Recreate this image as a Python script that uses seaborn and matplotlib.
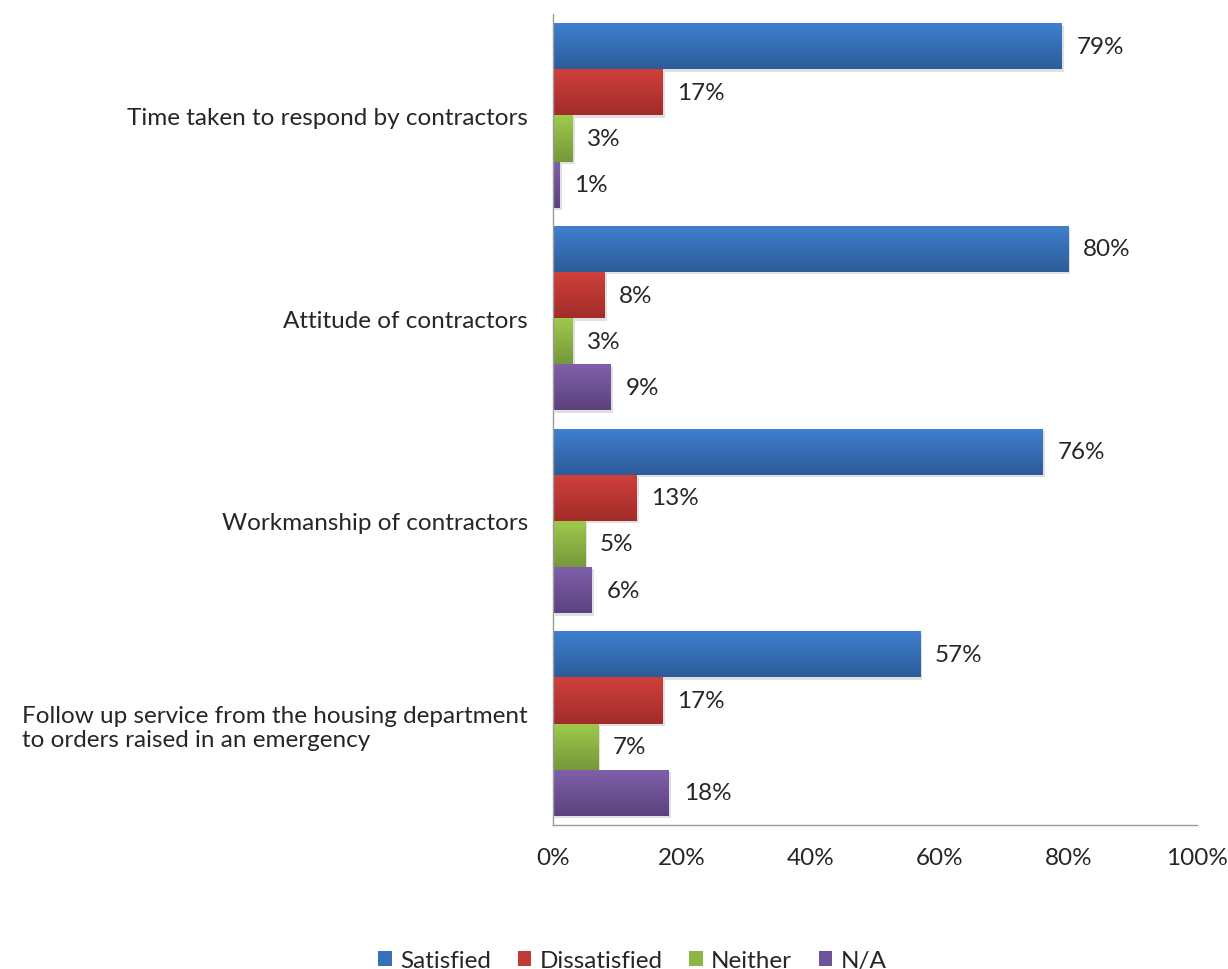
import numpy as np
import pandas as pd
import matplotlib
matplotlib.use("Agg")
import matplotlib.pyplot as plt
from matplotlib.colors import LinearSegmentedColormap
from matplotlib.patches import Rectangle
import seaborn as sns

categories = [
    "Time taken to respond by contractors",
    "Attitude of contractors",
    "Workmanship of contractors",
    "Follow up service from the housing department\nto orders raised in an emergency",
]
series = ["Satisfied", "Dissatisfied", "Neither", "N/A"]
satisfied = [79, 80, 76, 57]
dissatisfied = [17, 8, 13, 17]
neither = [3, 3, 5, 7]
not_applicable = [1, 9, 6, 18]
x_ticks = [0, 20, 40, 60, 80, 100]
x_tick_labels = ["0%", "20%", "40%", "60%", "80%", "100%"]

# colour pairs: (lighter top, darker bottom) for a soft vertical gradient
top_colors = ["#3f80cf", "#d0403c", "#9fca4c", "#8060ab"]
bottom_colors = ["#2d5c99", "#a12c29", "#76983a", "#5b427d"]
mid_colors = ["#376fb8", "#c03a37", "#8cb543", "#6e529a"]

FS = 17.5

values = [satisfied, dissatisfied, neither, not_applicable]
rows = []
for s, vals in zip(series, values):
    for c, v in zip(categories, vals):
        rows.append({"category": c, "series": s, "value": v})
df = pd.DataFrame(rows)

sns.set_theme(style="white")
plt.rcParams["font.family"] = ["Lato", "DejaVu Sans"]

fig = plt.figure(figsize=(12.28, 9.70), dpi=100)
ax = fig.add_axes([0.4503, 0.1485, 0.5245, 0.836])

sns.barplot(
    data=df, y="category", x="value", hue="series",
    order=categories, hue_order=series,
    palette=mid_colors, orient="h", width=0.91,
    ax=ax, legend=False, saturation=1,
)

ax.set_xlim(0, 100)

# gradient fill + drop shadow for every bar
for i, container in enumerate(ax.containers):
    cmap = LinearSegmentedColormap.from_list(
        f"grad{i}", [top_colors[i], bottom_colors[i]])
    grad = np.linspace(0, 1, 64).reshape(-1, 1)
    for bar, v in zip(container, values[i]):
        x0, y0 = bar.get_x(), bar.get_y()
        w, h = bar.get_width(), bar.get_height()
        shadow = Rectangle((x0 + 0.35, y0 + 0.012), w, h,
                           facecolor="#000000", alpha=0.12,
                           edgecolor="none", zorder=1.5)
        ax.add_patch(shadow)
        bar.set_edgecolor("none")
        bar.set_zorder(2)
        im = ax.imshow(grad, cmap=cmap, aspect="auto",
                       extent=(x0, x0 + w, y0 + h, y0),
                       zorder=2.1, interpolation="bicubic")
        im.set_clip_path(bar)
        ax.text(x0 + w + 2.3, y0 + h / 2, f"{v}%", va="center",
                ha="left", fontsize=FS, color="#262626", zorder=3)

ax.set_ylim(len(categories) - 0.5, -0.5)
ax.set_xticks(x_ticks)
ax.set_xticklabels(x_tick_labels, fontsize=FS, color="#262626")
ax.tick_params(axis="x", length=0, pad=16)
ax.tick_params(axis="y", length=0, pad=18)
for lbl in ax.get_yticklabels():
    lbl.set_fontsize(FS)
    lbl.set_color("#262626")
    lbl.set_multialignment("left")
ax.set_xlabel("")
ax.set_ylabel("")

for side in ["top", "right"]:
    ax.spines[side].set_visible(False)
for side in ["left", "bottom"]:
    ax.spines[side].set_color("#9a9a9a")
    ax.spines[side].set_linewidth(1.0)

handles = [Rectangle((0, 0), 1, 1, facecolor=c, edgecolor="none")
           for c in mid_colors]
fig.legend(handles, series, loc="lower center", ncol=4, frameon=False,
           fontsize=FS, bbox_to_anchor=(0.515, -0.025), handlelength=0.55,
           handleheight=0.55, handletextpad=0.35, columnspacing=1.1,
           labelcolor="#262626")

fig.savefig("out.png", dpi=100)
